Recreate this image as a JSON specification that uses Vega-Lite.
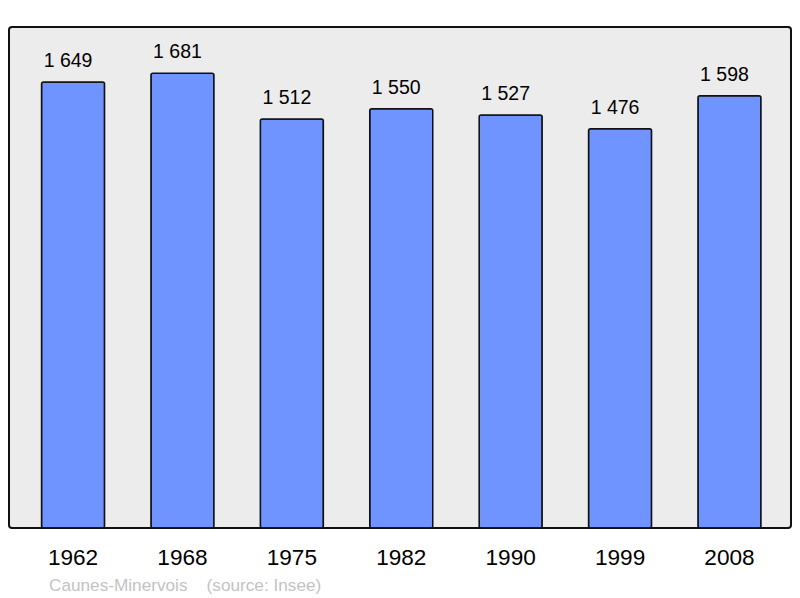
{
  "$schema": "https://vega.github.io/schema/vega-lite/v6.json",
  "width": 782,
  "height": 501,
  "autosize": {"type": "none"},
  "padding": {"left": 9, "top": 27, "right": 9, "bottom": 70},
  "background": "#ffffff",
  "config": {
    "font": "Liberation Sans",
    "view": {"fill": "#ececec", "stroke": "#111111", "strokeWidth": 2, "cornerRadius": 3}
  },
  "title": {
    "text": "Caunes-Minervois\u00a0\u00a0\u00a0 (source: Insee)",
    "orient": "bottom",
    "anchor": "start",
    "dx": 40,
    "offset": 22,
    "baseline": "alphabetic",
    "font": "Liberation Sans",
    "fontSize": 17.2,
    "fontWeight": "normal",
    "color": "#c3c3c3"
  },
  "data": {
    "values": [
      {"year": "1962", "pop": 1649, "label": "1 649"},
      {"year": "1968", "pop": 1681, "label": "1 681"},
      {"year": "1975", "pop": 1512, "label": "1 512"},
      {"year": "1982", "pop": 1550, "label": "1 550"},
      {"year": "1990", "pop": 1527, "label": "1 527"},
      {"year": "1999", "pop": 1476, "label": "1 476"},
      {"year": "2008", "pop": 1598, "label": "1 598"}
    ]
  },
  "encoding": {
    "x": {
      "field": "year",
      "type": "ordinal",
      "sort": null,
      "scale": {"paddingInner": 0.424, "paddingOuter": 0.286, "align": 0.52},
      "axis": {
        "title": null,
        "domain": false,
        "ticks": false,
        "tickSize": 0,
        "labelAngle": 0,
        "labelFont": "Liberation Sans",
        "labelFontSize": 22.6,
        "labelColor": "#000000",
        "labelBaseline": "alphabetic",
        "labelPadding": 36
      }
    },
    "y": {
      "field": "pop",
      "type": "quantitative",
      "scale": {"domain": [0, 1852], "nice": false},
      "axis": null
    }
  },
  "layer": [
    {
      "mark": {"type": "bar", "fill": "#7094ff", "stroke": "#111111", "strokeWidth": 1.5, "cornerRadius": 2}
    },
    {
      "mark": {"type": "text", "baseline": "alphabetic", "dy": -15, "dx": -5, "font": "Liberation Sans", "fontSize": 19.5, "color": "#000000"},
      "encoding": {"text": {"field": "label"}}
    }
  ]
}
